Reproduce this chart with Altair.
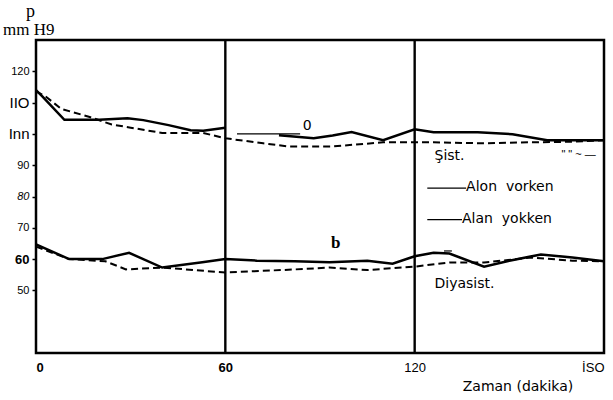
import altair as alt
import pandas as pd

# ---- data (time in minutes, pressure in mm Hg) ----
sis_on_t1 = [0, 2, 9, 20, 29, 34, 42, 49, 53, 60]
sis_on_v1 = [114, 112, 104.5, 104.5, 105, 104.4, 102.8, 101.2, 101, 102]
sis_on_t2 = [77, 88, 94, 100, 110, 120, 126, 140, 151, 162, 170, 180]
sis_on_v2 = [99.6, 98.6, 99.5, 100.6, 98, 101.5, 100.5, 100.5, 99.9, 98, 98, 98]

sis_off_t = [0, 3, 8, 17, 24, 30, 40, 53, 60, 72, 80, 94, 110, 126, 142, 156, 170, 180]
sis_off_v = [113.6, 112, 108, 105.4, 103, 102, 100.3, 100.3, 98.6, 97, 96, 96, 97.3, 97.3, 97, 97.3, 97.5, 98]

dia_on_t = [0, 10.5, 21, 29.5, 40, 52.7, 60, 70, 82, 93, 105, 113, 120, 126, 131, 142, 150, 160, 170, 180]
dia_on_v = [64.7, 60, 60, 62, 57.3, 59, 60, 59.5, 59.3, 59, 59.5, 58.5, 60.9, 62, 61.8, 57.6, 59.5, 61.5, 60.5, 59.3]

dia_off_t = [0, 10.5, 22, 28.5, 40, 60, 82, 93, 105, 120, 131, 142, 157, 170, 180]
dia_off_v = [64, 60, 59.3, 56.7, 57.3, 55.7, 56.7, 57.3, 56.5, 57.6, 58.9, 58.9, 60.5, 59.5, 59.3]

x_ticks = [0, 60, 120, 180]
y_ticks = [50, 60, 70, 80, 90, 100, 110, 120]
grid_t = [60, 120]


def frame(t, v, g):
    return pd.DataFrame({"t": t, "v": v, "g": g})


solid_df = pd.concat([
    frame(sis_on_t1, sis_on_v1, "s1"),
    frame(sis_on_t2, sis_on_v2, "s2"),
    frame(dia_on_t, dia_on_v, "d"),
])
dashed_df = pd.concat([
    frame(sis_off_t, sis_off_v, "s"),
    frame(dia_off_t, dia_off_v, "d"),
])

SANS = "Liberation Sans"
WIDE = "DejaVu Sans"
SERIF = "Liberation Serif"
NB = "\u00a0"

x_enc = alt.X(
    "t:Q",
    title=None,
    scale=alt.Scale(domain=[0, 180], nice=False, zero=False),
    axis=alt.Axis(
        values=x_ticks, grid=False, domain=False, ticks=False,
        labelPadding=8, labelFont=SANS, labelFontSize=13, labelColor="black",
        labelExpr="datum.value == 180 ? 'İSO' : datum.label",
        labelFontWeight=alt.ExprRef(expr="datum.value < 100 ? 'bold' : 'normal'"),
    ),
)
y_enc = alt.Y(
    "v:Q",
    title=None,
    scale=alt.Scale(domain=[30, 130], nice=False, zero=False),
    axis=alt.Axis(
        values=y_ticks, grid=False, domain=False, ticks=True, tickSize=4,
        tickWidth=1.5, tickColor="black",
        labelPadding=3, labelFont=SANS, labelColor="black",
        labelExpr="datum.value == 110 ? 'IIO' : (datum.value == 100 ? 'Inn' : datum.label)",
        labelFontSize=alt.ExprRef(expr="(datum.value == 110 || datum.value == 100) ? 15 : (datum.value == 60 ? 13 : 11)"),
        labelFontStyle=alt.ExprRef(expr="datum.value == 80 ? 'italic' : 'normal'"),
        labelFontWeight=alt.ExprRef(expr="datum.value == 60 ? 'bold' : 'normal'"),
    ),
)

solid = alt.Chart(solid_df).mark_line(color="black", strokeWidth=2.5).encode(
    x=x_enc, y=y_enc, detail="g:N", order="t:Q"
)
dashed = alt.Chart(dashed_df).mark_line(color="black", strokeWidth=2, strokeDash=[7, 4]).encode(
    x="t:Q", y="v:Q", detail="g:N", order="t:Q"
)
grid = alt.Chart(pd.DataFrame({"t": grid_t})).mark_rule(color="black", strokeWidth=2.4).encode(x="t:Q")

one = pd.DataFrame({"a": [0]})


def txt(text, t, v, **kw):
    opts = dict(align="left", baseline="middle", font=WIDE, fontSize=14, color="black")
    opts.update(kw)
    return alt.Chart(one).mark_text(**opts).encode(
        x=alt.datum(t), y=alt.datum(v), text=alt.value(text)
    )


def seg(t1, t2, v, w=1.2):
    return alt.Chart(one).mark_rule(color="black", strokeWidth=w).encode(
        x=alt.datum(t1), x2=alt.datum(t2), y=alt.datum(v)
    )


def px_txt(text, x, y, **kw):
    opts = dict(align="left", baseline="middle", font=WIDE, fontSize=14, color="black")
    opts.update(kw)
    return alt.Chart(one).mark_text(**opts).encode(
        x=alt.value(x), y=alt.value(y), text=alt.value(text)
    )


annotations = [
    seg(63.7, 83.7, 100.0),
    txt("0", 84.5, 102.4, fontSize=14),
    txt("b", 93.5, 65.2, fontSize=17, fontWeight="bold", font=SERIF),
    txt("Şist.", 126.3, 93.0),
    txt("\" \" ~ —", 166.5, 93.3, fontSize=11, font=SANS),
    seg(124.0, 136.3, 82.7),
    txt("Alon" + NB + NB + "vorken", 136.3, 82.9),
    seg(124.0, 135.0, 72.6),
    txt("Alan" + NB + NB + "yokken", 135.0, 72.8),
    seg(129.3, 131.8, 62.6),
    txt("Diyasist.", 126.3, 52.0),
    px_txt("p", -10, -28, font=SERIF, fontSize=18),
    px_txt("mm H9", -33, -10, font=SERIF, fontSize=17),
    px_txt("Zaman (dakika)", 482, 347, align="center"),
]

chart = alt.layer(solid, dashed, grid, *annotations).properties(
    width=568,
    height=313,
    autosize=alt.AutoSizeParams(type="none"),
    padding={"left": 36, "top": 40, "right": 9, "bottom": 47},
    background="white",
).configure_view(stroke="black", strokeWidth=2.5)

chart.save("out.html", embed_options={"renderer": "svg", "actions": False})
